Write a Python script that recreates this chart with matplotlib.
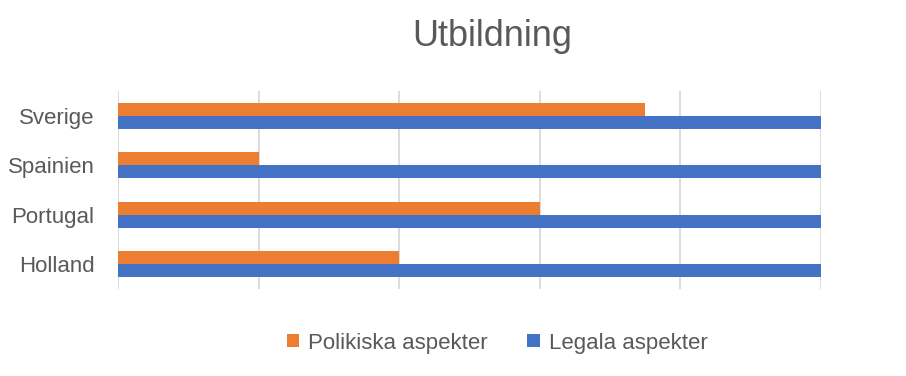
import matplotlib
matplotlib.use("Agg")
import matplotlib.pyplot as plt
import numpy as np

countries = ["Holland", "Portugal", "Spainien", "Sverige"]
politiska = [2, 3, 1, 3.75]
legala = [5, 5, 5, 5]
series_names = ["Polikiska aspekter", "Legala aspekter"]

plt.rcParams['font.family'] = ['Liberation Sans', 'DejaVu Sans']

fig = plt.figure(figsize=(9.06, 3.76), dpi=100)
ax = fig.add_axes([118/906, 1 - 289/376, (821-118)/906, (289-91)/376])

y = np.arange(len(countries))
h = 0.26
ax.barh(y + h/2, politiska, height=h, color="#ED7D31", label=series_names[0], zorder=3)
ax.barh(y - h/2, legala, height=h, color="#4472C4", label=series_names[1], zorder=3)

ax.set_xlim(0, 5)
ax.set_ylim(-0.5, 3.5)
ax.set_xticks(np.arange(0, 6, 1))
ax.set_xticklabels([])
ax.tick_params(axis="x", length=0)
ax.tick_params(axis="y", length=0, labelsize=16, labelcolor="#595959", pad=17)
ax.set_yticks(y)
ax.set_yticklabels(countries)
ax.grid(axis="x", color="#d9d9d9", linewidth=1.3, zorder=0)
for s in ax.spines.values():
    s.set_visible(False)

fig.text(492/906, 1 - 36/376, "Utbildning", ha="center", va="center", fontsize=26, color="#595959")

handles, labels = ax.get_legend_handles_labels()
fig.legend(handles, labels, loc="center", bbox_to_anchor=(497/906, 1 - 343/376), ncol=2,
           frameon=False, fontsize=16, labelcolor="#595959", handlelength=0.55, handleheight=0.55,
           handletextpad=0.4, columnspacing=1.8)

fig.savefig("out.png", dpi=100)
